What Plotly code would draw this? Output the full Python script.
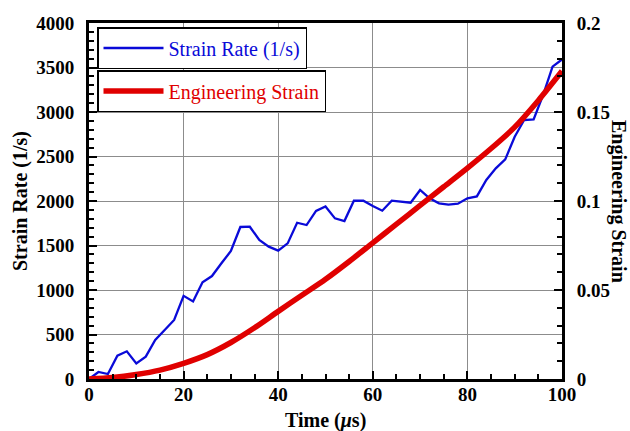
import plotly.graph_objects as go

time_rate = [0, 2, 4, 6, 8, 10, 12, 14, 16, 18, 20, 22, 24, 26, 28, 30, 32, 34, 36, 38,
             40, 42, 44, 46, 48, 50, 52, 54, 56, 58, 60, 62, 64, 66, 68, 70, 72, 74, 76, 78,
             80, 82, 84, 86, 88, 90, 92, 94, 96, 98, 100]
strain_rate = [0, 79, 56, 262, 311, 176, 251, 438, 551, 663, 934, 872, 1088, 1157, 1300, 1438,
               1708, 1711, 1562, 1487, 1442, 1524, 1756, 1730, 1888, 1938, 1805, 1775, 2003,
               2003, 1944, 1891, 2003, 1989, 1981, 2124, 2030, 1974, 1960, 1970, 2030, 2052,
               2236, 2367, 2468, 2722, 2910, 2917, 3191, 3509, 3590]

time_strain = [0, 5, 10, 15, 20, 25, 30, 35, 40, 45, 50, 55, 60, 65, 70, 75, 80, 85, 90, 95, 100]
eng_strain = [0, 0.0008, 0.0025, 0.005, 0.0088, 0.0137, 0.0205, 0.0288, 0.038, 0.047, 0.056,
              0.066, 0.0765, 0.087, 0.0975, 0.108, 0.1185, 0.1295, 0.1415, 0.1565, 0.173]

FONT = "Liberation Serif"
BLUE = "#0a0ad8"
RED = "#e00000"

W, H = 630, 431
ML, MR, MT, MB = 89, 68, 23, 52
PW = W - ML - MR
PH = H - MT - MB


def px_x(px):
    return (px - ML) / PW


def px_y(py):
    return (H - MB - py) / PH


fig = go.Figure()
fig.add_trace(go.Scatter(x=time_rate, y=strain_rate, mode="lines", name="Strain Rate (1/s)",
                         line=dict(color=BLUE, width=2.3), legend="legend", showlegend=True))
fig.add_trace(go.Scatter(x=time_strain, y=eng_strain, mode="lines", name="Engineering Strain",
                         line=dict(color=RED, width=5.5, shape="spline", smoothing=0.8),
                         yaxis="y2", legend="legend2", showlegend=True))

tickfont = dict(family=FONT, size=19, color="black", weight="bold")
titlefont = dict(family=FONT, size=20, color="black", weight="bold")

fig.update_layout(
    width=W, height=H,
    showlegend=True,
    margin=dict(l=ML, r=MR, t=MT, b=MB),
    paper_bgcolor="white", plot_bgcolor="white",
    font=dict(family=FONT, color="black"),
    xaxis=dict(range=[0, 100], dtick=20, tick0=0, ticks="inside", ticklen=8, tickwidth=2,
               tickcolor="black", showline=True, linecolor="black", linewidth=3, mirror=True,
               showgrid=True, gridcolor="#8c8c8c", gridwidth=1.2, zeroline=False,
               tickfont=tickfont, ticklabelstandoff=-4,
               minor=dict(dtick=5, ticks="inside", ticklen=5, tickwidth=1.5, tickcolor="black",
                          showgrid=False)),
    yaxis=dict(range=[0, 4000], dtick=500, tick0=0, ticks="inside", ticklen=8, tickwidth=2,
               tickcolor="black", showline=True, linecolor="black", linewidth=3, mirror=True,
               showgrid=True, gridcolor="#8c8c8c", gridwidth=1.2, zeroline=False,
               tickfont=tickfont, ticklabelstandoff=8,
               minor=dict(dtick=100, ticks="inside", ticklen=5, tickwidth=1.5,
                          tickcolor="black", showgrid=False)),
    yaxis2=dict(range=[0, 0.2], dtick=0.05, tick0=0, overlaying="y", side="right",
                ticks="inside", ticklen=8, tickwidth=2, tickcolor="black", showline=True,
                linecolor="black", linewidth=3, showgrid=False, zeroline=False,
                tickfont=tickfont, ticklabelstandoff=8,
                minor=dict(dtick=0.01, ticks="inside", ticklen=5, tickwidth=1.5,
                           tickcolor="black", showgrid=False)),
    legend=dict(x=px_x(97), y=px_y(27), xanchor="left", yanchor="top", bgcolor="white",
                bordercolor="black", borderwidth=1.5, itemwidth=60,
                font=dict(family=FONT, size=20, color=BLUE)),
    legend2=dict(x=px_x(97), y=px_y(70), xanchor="left", yanchor="top", bgcolor="white",
                 bordercolor="black", borderwidth=1.5, itemwidth=60,
                 font=dict(family=FONT, size=20, color=RED)),
    annotations=[
        dict(text="Time (<i>μ</i>s)", x=0.5, y=px_y(420), xref="paper", yref="paper",
             xanchor="center", yanchor="middle", showarrow=False, font=titlefont),
        dict(text="Strain Rate (1/s)", x=px_x(20), y=px_y(201), xref="paper", yref="paper",
             xanchor="center", yanchor="middle", textangle=-90, showarrow=False,
             font=titlefont),
        dict(text="Engineering Strain", x=px_x(619), y=px_y(201), xref="paper", yref="paper",
             xanchor="center", yanchor="middle", textangle=90, showarrow=False,
             font=titlefont),
    ],
)

fig.write_html("out.html")
